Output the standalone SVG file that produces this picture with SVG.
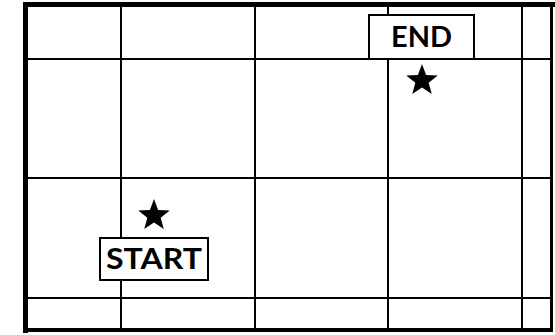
<svg xmlns="http://www.w3.org/2000/svg" xmlns:xlink="http://www.w3.org/1999/xlink" width="555" height="335" viewBox="0 0 555 335">
  <style>
    .grid { stroke: #000; stroke-width: 2; fill: none; }
    .frame { stroke: #000; fill: none; }
    .box { fill: #fff; stroke: #000; stroke-width: 2; }
    .label { font-family: "Lato", "Open Sans", "Liberation Sans", sans-serif; font-weight: 700; fill: #000; }
  </style>
  <defs>
    <polygon id="star" fill="#000" points="0,-16.6 4.11,-5.66 15.79,-5.13 6.66,2.16 9.76,13.43 0,7 -9.76,13.43 -6.66,2.16 -15.79,-5.13 -4.11,-5.66"/>
  </defs>
  <rect width="555" height="335" fill="#fff"/>
  <g id="grid">
    <line class="grid" x1="121" y1="7" x2="121" y2="328"/>
    <line class="grid" x1="255" y1="7" x2="255" y2="328"/>
    <line class="grid" x1="388" y1="7" x2="388" y2="328"/>
    <line class="grid" x1="522" y1="7" x2="522" y2="328"/>
    <line class="grid" x1="28" y1="59" x2="550" y2="59"/>
    <line class="grid" x1="28" y1="178" x2="550" y2="178"/>
    <line class="grid" x1="28" y1="298" x2="550" y2="298"/>
  </g>
  <g id="frame">
    <line class="frame" stroke-width="5" x1="23" y1="4.5" x2="555" y2="4.5"/>
    <line class="frame" stroke-width="5" x1="25.5" y1="2" x2="25.5" y2="333"/>
    <line class="frame" stroke-width="4" x1="23" y1="330" x2="553" y2="330"/>
    <line class="frame" stroke-width="3" x1="551.5" y1="2" x2="551.5" y2="332"/>
  </g>
  <g id="end">
    <rect class="box" x="369" y="15" width="105" height="44"/>
    <text class="label" x="421.5" y="47" font-size="28" text-anchor="middle" textLength="61" lengthAdjust="spacingAndGlyphs">END</text>
    <use xlink:href="#star" href="#star" x="422" y="80.6"/>
  </g>
  <g id="start">
    <rect class="box" x="100" y="238" width="108" height="42"/>
    <text class="label" x="154" y="269" font-size="29" text-anchor="middle" textLength="96" lengthAdjust="spacingAndGlyphs">START</text>
    <use xlink:href="#star" href="#star" x="154" y="215.6"/>
  </g>
</svg>
